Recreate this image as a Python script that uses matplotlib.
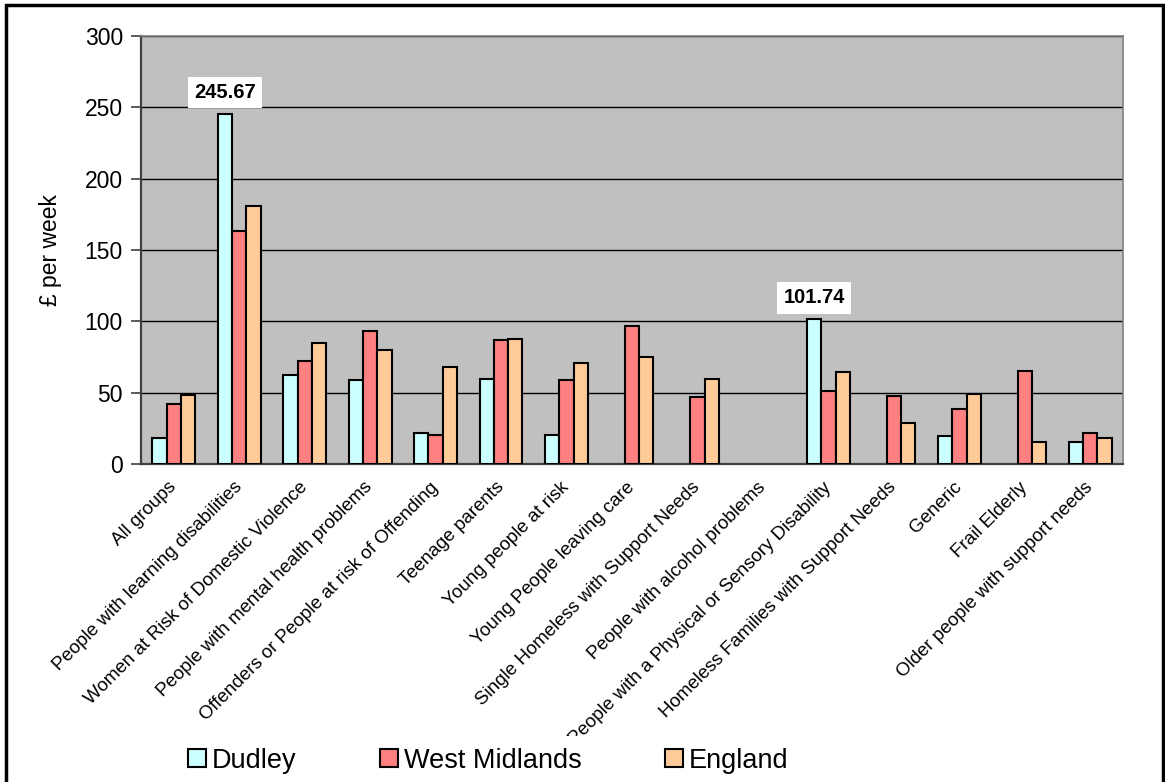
import numpy as np
import matplotlib
matplotlib.use("Agg")
import matplotlib.pyplot as plt
from matplotlib.patches import Rectangle

plt.rcParams['font.family'] = ['Liberation Sans', 'DejaVu Sans']

categories = [
    "All groups",
    "People with learning disabilities",
    "Women at Risk of Domestic Violence",
    "People with mental health problems",
    "Offenders or People at risk of Offending",
    "Teenage parents",
    "Young people at risk",
    "Young People leaving care",
    "Single Homeless with Support Needs",
    "People with alcohol problems",
    "People with a Physical or Sensory Disability",
    "Homeless Families with Support Needs",
    "Generic",
    "Frail Elderly",
    "Older people with support needs",
]

nan = np.nan
dudley = [18.3, 245.67, 62.3, 59.0, 21.8, 59.5, 20.1, nan, nan, nan, 101.74, nan, 19.4, nan, 15.5]
west_midlands = [42.4, 163.4, 72.1, 93.2, 20.4, 87.1, 58.8, 97.0, 46.8, nan, 51.3, 47.8, 38.6, 65.3, 22.0]
england = [48.5, 180.6, 84.7, 79.6, 67.9, 87.8, 71.0, 74.7, 59.9, nan, 64.4, 28.8, 49.2, 15.5, 18.0]

series = [("Dudley", dudley, "#CCFFFF"),
          ("West Midlands", west_midlands, "#FF8080"),
          ("England", england, "#FFCC99")]

fig = plt.figure(figsize=(11.65, 7.82), dpi=100)
ax = fig.add_axes([0.121, 0.4067, 0.843, 0.547])
ax.set_facecolor("#C0C0C0")

x = np.arange(len(categories))
w = 0.218
for i, (name, vals, col) in enumerate(series):
    ax.bar(x + (i - 1) * w, vals, w, color=col, edgecolor="black",
           linewidth=1.5, label=name, zorder=3)

# value labels on the two Dudley peaks
for idx in (1, 10):
    ax.text(x[idx] - w, dudley[idx] + 8, f"{dudley[idx]:.2f}", ha="center",
            va="bottom", fontsize=14.5, fontweight="bold", zorder=5,
            bbox=dict(boxstyle="square,pad=0.3", fc="white", ec="none"))

ax.set_xlim(-0.5, len(categories) - 0.5)
ax.set_ylim(0, 300)
ax.set_yticks(range(0, 301, 50))
ax.yaxis.grid(True, color="black", linewidth=1)
ax.set_axisbelow(True)
ax.tick_params(axis="y", labelsize=16.5, length=7, width=1.2, color="#404040", pad=6)
ax.tick_params(axis="x", length=0, pad=15)
ax.set_xticks(x)
ax.set_xticklabels(categories, rotation=45, ha="right", va="center",
                   rotation_mode="anchor", fontsize=13.5)
ax.set_ylabel("£ per week", fontsize=16.5, labelpad=16)

for s in ("left", "bottom"):
    ax.spines[s].set_color("#404040")
    ax.spines[s].set_linewidth(1.6)
for s in ("top", "right"):
    ax.spines[s].set_color("#808080")
    ax.spines[s].set_linewidth(1.2)

leg = fig.legend(loc="center", bbox_to_anchor=(0.419, 0.027), ncol=3, fontsize=19.5,
                 frameon=True, fancybox=False, edgecolor="none", facecolor="white",
                 framealpha=1, handlelength=0.67, handleheight=0.65, handletextpad=0.2,
                 columnspacing=3.1, borderpad=0.45)
leg.set_zorder(10)

# outer chart border
fig.patches.append(Rectangle((0.0055, -0.01), 0.993, 1.003, transform=fig.transFigure,
                             fill=False, edgecolor="black", linewidth=2.5))

fig.savefig("out.png", dpi=100)
